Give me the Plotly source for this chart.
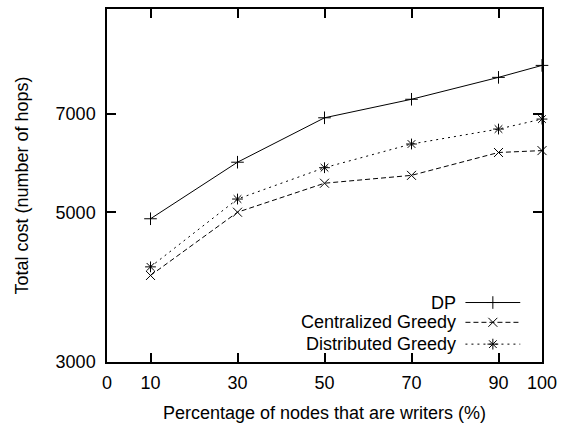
import plotly.graph_objects as go
import math

x_pct = [10, 30, 50, 70, 90, 100]
dp = [4890, 5930, 6900, 7350, 7920, 8250]
central_greedy = [4030, 5000, 5520, 5670, 6130, 6170]
distrib_greedy = [4150, 5230, 5820, 6310, 6640, 6870]

series_names = ["DP", "Centralized Greedy", "Distributed Greedy"]
x_ticks = [0, 10, 30, 50, 70, 90, 100]
y_ticks = [3000, 5000, 7000]

FONT = "Liberation Sans, Arial, sans-serif"
FS = 18
styles = [
    dict(dash="solid", symbol="cross-thin-open"),
    dict(dash="5px,3px", symbol="x-thin-open"),
    dict(dash="2px,4px", symbol="asterisk-open"),
]

fig = go.Figure()
for name, ys, st in zip(series_names, [dp, central_greedy, distrib_greedy], styles):
    fig.add_trace(go.Scatter(
        x=x_pct, y=ys, mode="lines+markers", name=name, showlegend=False,
        line=dict(color="black", width=1, dash=st["dash"]),
        marker=dict(symbol=st["symbol"], size=9, color="black",
                    line=dict(color="black", width=1)),
        cliponaxis=False,
    ))

# custom legend (text right-aligned, sample on the right) on an overlay axis
leg_rows = [0.1685, 0.1124, 0.0506]
for name, st, ry in zip(series_names, styles, leg_rows):
    fig.add_trace(go.Scatter(
        x=[0.824, 0.887, 0.950], y=[ry, ry, ry], xaxis="x2", yaxis="y2",
        mode="lines", showlegend=False, hoverinfo="skip",
        line=dict(color="black", width=1, dash=st["dash"]),
    ))
    fig.add_trace(go.Scatter(
        x=[0.887], y=[ry], xaxis="x2", yaxis="y2",
        mode="markers", showlegend=False, hoverinfo="skip",
        marker=dict(symbol=st["symbol"], size=9, color="black",
                    line=dict(color="black", width=1)),
    ))
    fig.add_annotation(x=0.808, y=ry, xref="paper", yref="paper",
                       text=name, showarrow=False, xanchor="right",
                       yanchor="middle", font=dict(family=FONT, size=FS, color="black"))

axis_common = dict(showgrid=False, zeroline=False, showline=True, linecolor="black",
                   linewidth=1.5, ticks="inside", ticklen=9, tickwidth=1.5,
                   tickcolor="black", mirror="ticks",
                   tickfont=dict(family=FONT, size=FS, color="black"))

fig.update_layout(
    width=564, height=427,
    margin=dict(l=107, r=19, t=7, b=64),
    paper_bgcolor="white", plot_bgcolor="white",
    font=dict(family=FONT, size=FS, color="black"),
    xaxis=dict(range=[0, 100], tickvals=x_ticks, ticktext=[str(v) for v in x_ticks],
               ticklabelstandoff=4,
               title=dict(text="Percentage of nodes that are writers (%)",
                          font=dict(family=FONT, size=FS), standoff=14),
               **axis_common),
    yaxis=dict(type="log", range=[math.log10(3000), 4], tickvals=y_ticks,
               ticktext=[str(v) for v in y_ticks],
               ticklabelstandoff=6,
               title=dict(text="Total cost (number of hops)",
                          font=dict(family=FONT, size=FS), standoff=22),
               **axis_common),
    xaxis2=dict(overlaying="x", range=[0, 1], visible=False, anchor="y2"),
    yaxis2=dict(overlaying="y", range=[0, 1], visible=False, anchor="x2"),
)

fig.write_html("out.html")
